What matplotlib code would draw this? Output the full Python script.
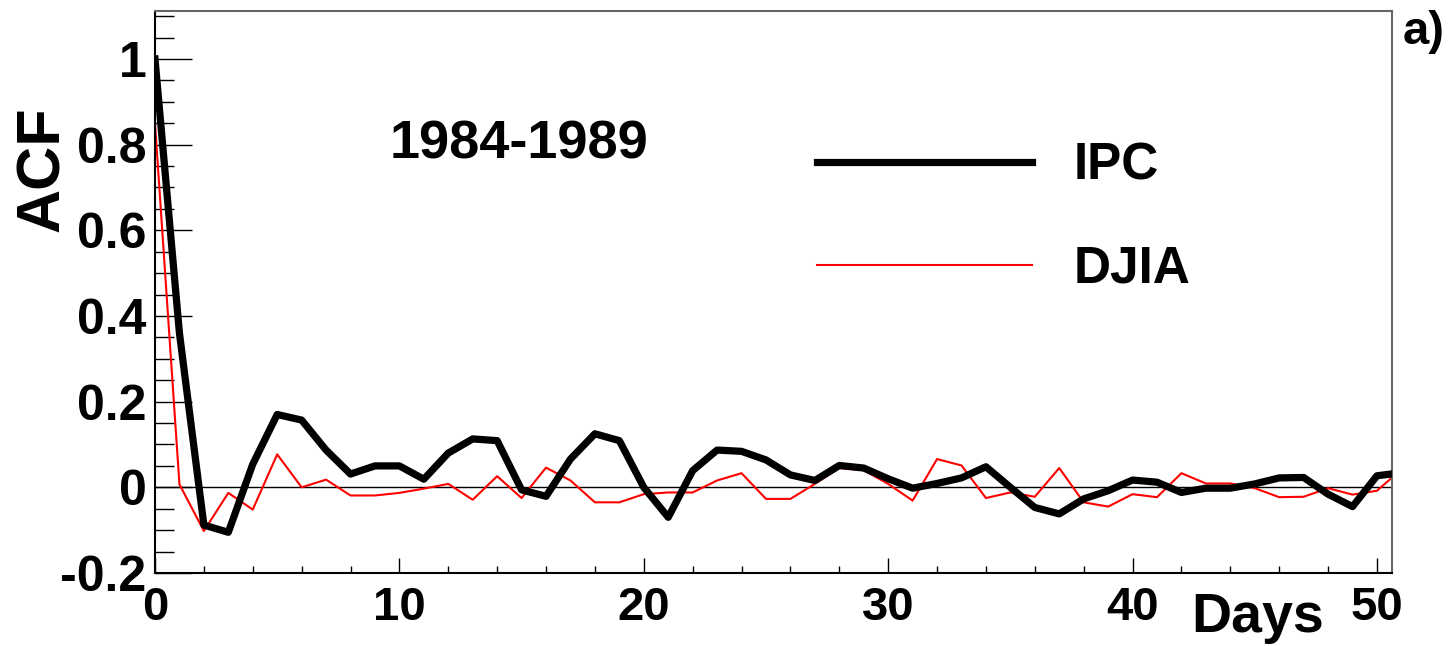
import matplotlib
matplotlib.use("Agg")
import matplotlib.pyplot as plt
import numpy as np
from matplotlib.ticker import MultipleLocator, FuncFormatter

plt.rcParams['font.family'] = ['Liberation Sans', 'DejaVu Sans']
plt.rcParams['font.weight'] = 'bold'
plt.rcParams['axes.unicode_minus'] = False

# ACF values, lag in days
days = np.arange(52)
ipc = [1.0, 0.36, -0.088, -0.105, 0.054, 0.17, 0.157, 0.087, 0.031, 0.05,
       0.05, 0.019, 0.08, 0.113, 0.109, -0.006, -0.021, 0.066, 0.125, 0.109,
       0.0, -0.07, 0.039, 0.087, 0.084, 0.064, 0.029, 0.016, 0.051, 0.045,
       0.02, -0.002, 0.009, 0.022, 0.048, 0.0, -0.047, -0.062, -0.027, -0.008,
       0.017, 0.012, -0.012, -0.002, -0.002, 0.008, 0.022, 0.023, -0.016, -0.045,
       0.027, 0.034]
djia = [0.85, 0.007, -0.102, -0.013, -0.052, 0.077, 0.0, 0.018, -0.019, -0.019,
        -0.013, -0.003, 0.008, -0.029, 0.026, -0.025, 0.046, 0.016, -0.035, -0.035,
        -0.016, -0.012, -0.012, 0.016, 0.033, -0.027, -0.027, 0.008, 0.045, 0.04,
        0.008, -0.031, 0.066, 0.051, -0.025, -0.012, -0.022, 0.045, -0.035, -0.045,
        -0.016, -0.023, 0.033, 0.009, 0.009, -0.002, -0.023, -0.022, -0.002, -0.017,
        -0.008, 0.042]
period = "1984-1989"
panel = "a)"

fig = plt.figure(figsize=(14.54, 6.46), dpi=100)
ax = fig.add_axes([0.1066, 0.1130, 0.8505, 0.8700])

ax.axhline(0, color='black', lw=1.0, zorder=1)
ax.plot(days, djia, color='red', lw=1.5, label='DJIA', zorder=2)
ax.plot(days, ipc, color='black', lw=5.2, label='IPC', zorder=3)

ax.set_xlim(0, 50.6)
ax.set_ylim(-0.2, 1.112)

ax.xaxis.set_major_locator(MultipleLocator(10))
ax.xaxis.set_minor_locator(MultipleLocator(2))
ax.yaxis.set_major_locator(MultipleLocator(0.2))
ax.yaxis.set_minor_locator(MultipleLocator(0.05))
ax.yaxis.set_major_formatter(FuncFormatter(lambda v, p: "%g" % round(v, 2)))

ax.tick_params(axis='both', which='both', direction='in', colors='black', width=1.0,
               top=False, right=False, labelsize=34)
ax.tick_params(axis='y', which='major', length=26.6, pad=6, labelsize=36)
ax.tick_params(axis='y', which='minor', length=13.7)
ax.tick_params(axis='x', which='major', length=10.8, pad=9)
ax.tick_params(axis='x', which='minor', length=5)
for lab in ax.get_xticklabels() + ax.get_yticklabels():
    lab.set_fontweight('bold')

for side in ['left', 'bottom']:
    ax.spines[side].set_linewidth(1.5)
    ax.spines[side].set_color('black')
for side in ['top', 'right']:
    ax.spines[side].set_linewidth(1.5)
    ax.spines[side].set_color('#666666')

ax.set_ylabel('ACF', fontsize=44, fontweight='bold')
ax.yaxis.set_label_coords(-0.0675, 0.719)
ax.set_xlabel('Days', fontsize=40, fontweight='bold')
ax.xaxis.set_label_coords(0.892, -0.034)

ax.text(0.19, 0.763, period, transform=ax.transAxes, fontsize=39,
        fontweight='bold', ha='left', va='center')
fig.text(0.979, 0.950, panel, fontsize=34, fontweight='bold', ha='center', va='center')

handles, labels = ax.get_legend_handles_labels()
leg = ax.legend(handles[::-1], labels[::-1], loc='upper left', bbox_to_anchor=(0.535, 0.767),
                frameon=False, handlelength=4.2, handletextpad=0.8,
                labelspacing=1.05, borderpad=0, borderaxespad=0,
                prop={'weight': 'bold', 'size': 37})

fig.savefig('out.png', dpi=100)
